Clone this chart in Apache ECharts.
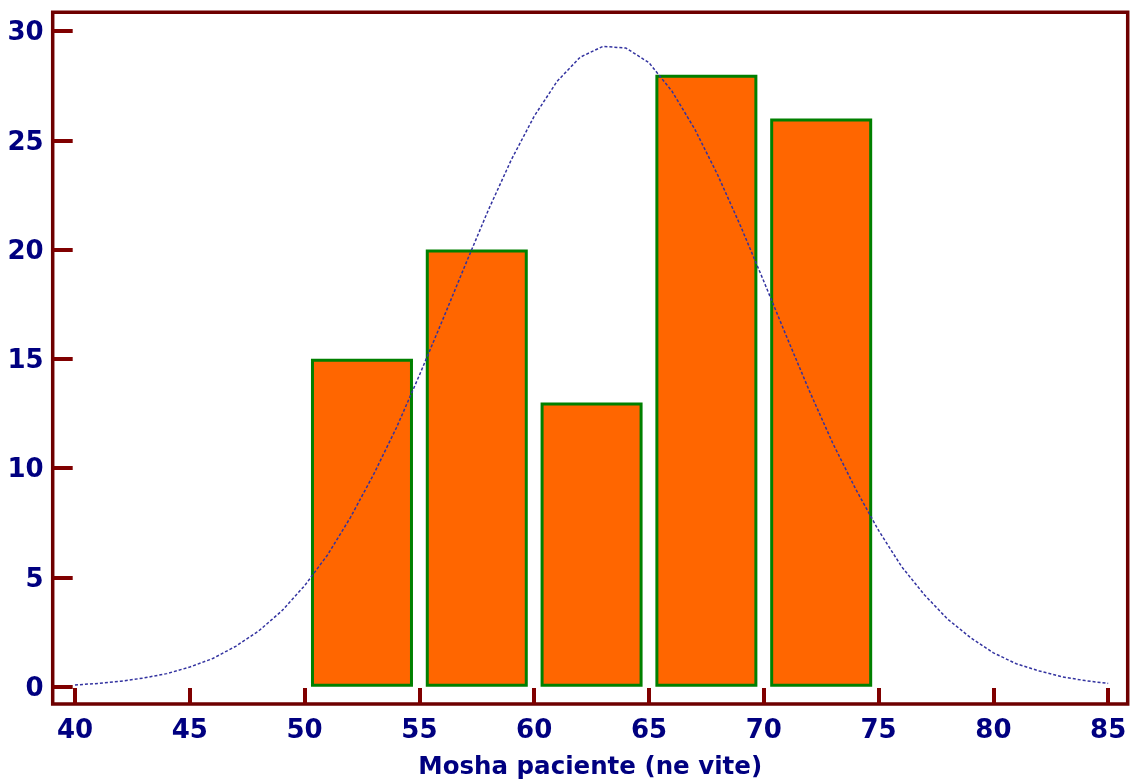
<!DOCTYPE html>
<html>
<head>
<meta charset="utf-8">
<title>Mosha paciente</title>
<script src="https://cdn.jsdelivr.net/npm/echarts@6/dist/echarts.min.js"></script>
<style>
  html, body { margin: 0; padding: 0; background: #ffffff; }
  #chart { width: 1130px; height: 782px; }
</style>
</head>
<body>
<div id="chart"></div>
<script>
// Age classes (centre of each 5-year class) and number of patients
const binCenters = [52.5, 57.5, 62.5, 67.5, 72.5];
const binCounts = [15, 20, 13, 28, 26];

// Fitted normal curve, sampled once per year of age
const curveAges = [40, 41, 42, 43, 44, 45, 46, 47, 48, 49,
                   50, 51, 52, 53, 54, 55, 56, 57, 58, 59,
                   60, 61, 62, 63, 64, 65, 66, 67, 68, 69,
                   70, 71, 72, 73, 74, 75, 76, 77, 78, 79,
                   80, 81, 82, 83, 84, 85];
const curveCounts = [0.08, 0.15, 0.25, 0.40, 0.60, 0.90, 1.29, 1.85, 2.55, 3.46,
                     4.62, 6.03, 7.75, 9.70, 11.85, 14.25, 16.75, 19.30, 21.80, 24.10,
                     26.10, 27.70, 28.80, 29.30, 29.22, 28.55, 27.25, 25.50, 23.40, 21.05,
                     18.55, 16.00, 13.50, 11.15, 9.05, 7.15, 5.50, 4.20, 3.10, 2.25,
                     1.55, 1.05, 0.72, 0.45, 0.28, 0.15];

// Tick labels
const xTicks = [40, 45, 50, 55, 60, 65, 70, 75, 80, 85];
const yTicks = [0, 5, 10, 15, 20, 25, 30];

const axisTitle = 'Mosha paciente (ne vite)';

const frameColor = '#6e0000';
const tickColor = '#800000';
const labelColor = '#000080';
const labelFont = 'DejaVu Sans';

const chart = echarts.init(document.getElementById('chart'), null, { renderer: 'canvas' });

chart.setOption({
  animation: false,
  backgroundColor: '#ffffff',
  grid: {
    left: 52.7, right: 2.3, top: 12.3, bottom: 78,
    outerBoundsMode: 'none',
    containLabel: false,
    show: true,
    borderColor: frameColor,
    borderWidth: 3.5,
    backgroundColor: 'transparent'
  },
  xAxis: {
    type: 'value',
    min: 39.03,
    max: 85.85,
    position: 'bottom',
    axisLine: { show: false, onZero: false },
    splitLine: { show: false },
    axisTick: {
      show: true, inside: true, length: 16,
      customValues: xTicks,
      lineStyle: { color: tickColor, width: 4 }
    },
    axisLabel: {
      customValues: xTicks,
      margin: 14,
      color: labelColor,
      fontFamily: labelFont,
      fontWeight: 'bold',
      fontSize: 26
    },
    name: axisTitle,
    nameLocation: 'middle',
    nameGap: 51,
    nameTextStyle: {
      color: labelColor,
      fontFamily: labelFont,
      fontWeight: 'bold',
      fontSize: 24.5
    }
  },
  yAxis: {
    type: 'value',
    min: -0.79,
    max: 30.856,
    axisLine: { show: false },
    splitLine: { show: false },
    axisTick: {
      show: true, inside: true, length: 20,
      customValues: yTicks,
      lineStyle: { color: tickColor, width: 4 }
    },
    axisLabel: {
      customValues: yTicks,
      margin: 9,
      formatter: '{v|{value}}',
      rich: {
        v: {
          padding: [5, 0, 0, 0],
          color: labelColor,
          fontFamily: labelFont,
          fontWeight: 'bold',
          fontSize: 26
        }
      },
      color: labelColor,
      fontFamily: labelFont,
      fontWeight: 'bold',
      fontSize: 26
    }
  },
  series: [
    {
      type: 'bar',
      data: binCenters.map((c, i) => [c, binCounts[i]]),
      barWidth: 102,
      itemStyle: {
        color: '#ff6600',
        borderColor: '#008000',
        borderWidth: 3
      },
      z: 2
    },
    {
      type: 'line',
      data: curveAges.map((a, i) => [a, curveCounts[i]]),
      smooth: false,
      symbol: 'none',
      lineStyle: {
        color: '#3333a0',
        width: 1.5,
        type: [3, 2]
      },
      z: 3
    }
  ]
});
</script>
</body>
</html>
